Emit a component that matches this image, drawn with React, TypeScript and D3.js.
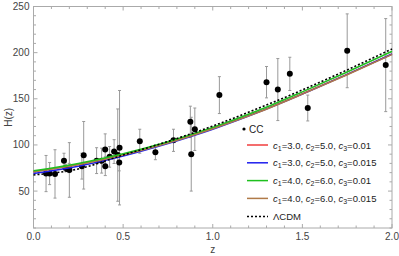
import { useMemo } from 'react'
import * as d3 from 'd3'

const W = 399
const H = 256

// cosmic chronometer data: z, H(z), sigma
const ccZ = [0.07, 0.09, 0.12, 0.17, 0.179, 0.199, 0.2, 0.27, 0.28, 0.352, 0.3802, 0.4, 0.4004, 0.4247, 0.4497, 0.47, 0.4783, 0.48, 0.593, 0.68, 0.781, 0.875, 0.88, 0.9, 1.037, 1.3, 1.363, 1.43, 1.53, 1.75, 1.965]
const ccH = [69, 69, 68.6, 83, 75, 75, 72.9, 77, 88.8, 83, 83, 95, 77, 87.1, 92.8, 89, 80.9, 97, 104, 92, 105, 125, 90, 117, 154, 168, 160, 177, 140, 202, 186.5]
const ccErr = [19.6, 12, 26.2, 8, 4, 5, 29.6, 14, 36.6, 14, 13.5, 17, 10.2, 11.2, 12.9, 50, 9, 62, 13, 8, 12, 17, 40, 23, 20, 17, 33.6, 18, 14, 40, 50.4]

// model curves
const curveZ = [0, 0.25, 0.5, 0.75, 1.0, 1.25, 1.5, 1.75, 2.0]
const redH = [71, 79, 89.5, 102.5, 118, 135.5, 155.5, 176.5, 198.5]
const blueH = [69, 77, 88, 101.5, 117, 135, 155, 176.5, 198.5]
const greenH = [72, 80, 90.5, 103.5, 119, 137, 157.5, 179, 201.5]
const brownH = [71, 78.5, 89, 102, 117.5, 135, 155, 176, 198]
const lcdmH = [67.5, 74, 89, 103.8, 120.5, 139.3, 159.6, 181.3, 204]

const xTicks = [0, 0.5, 1.0, 1.5, 2.0]
const yTicks = [50, 100, 150, 200, 250]

const models = [
  { label: ['3.0', '5.0', '0.01'], values: redH, color: '#f03c3c' },
  { label: ['3.0', '5.0', '0.015'], values: blueH, color: '#1e1eee' },
  { label: ['4.0', '6.0', '0.01'], values: greenH, color: '#1ec01e' },
  { label: ['4.0', '6.0', '0.015'], values: brownH, color: '#b07a48' },
]
const drawOrder = [0, 1, 3, 2]

const FONT = 'Liberation Sans, Arial, sans-serif'

export default function App() {
  const x = d3.scaleLinear().domain([0, 2]).range([33.5, 392])
  const y = d3.scaleLinear().domain([10, 250]).range([228, 6.5])

  const line = useMemo(
    () =>
      d3
        .line<number>()
        .x((_, i) => x(curveZ[i]))
        .y((d) => y(d))
        .curve(d3.curveMonotoneX),
    []
  )

  const xMinor = d3.range(0, 2.0001, 0.1)
  const yMinor = d3.range(10, 250.001, 10)
  const frame = '#aaa'
  const [x0, x1] = x.range()
  const [y0, y1] = y.range()

  return (
    <svg width={W} height={H} style={{ position: 'absolute', left: 0, top: 0 }} fontFamily={FONT}>
      <rect x={x0} y={y1} width={x1 - x0} height={y0 - y1} fill="none" stroke={frame} strokeWidth={1} />
      {xMinor.map((t, i) => {
        const major = Math.abs(Math.round(t * 2) - t * 2) < 1e-6
        const len = major ? 4 : 2.5
        return (
          <g key={'xt' + i} stroke={frame}>
            <line x1={x(t)} x2={x(t)} y1={y0} y2={y0 - len} />
            <line x1={x(t)} x2={x(t)} y1={y1} y2={y1 + len} />
          </g>
        )
      })}
      {yMinor.map((t, i) => {
        const major = t % 50 === 0
        const len = major ? 4 : 2.5
        return (
          <g key={'yt' + i} stroke={frame}>
            <line x1={x0} x2={x0 + len} y1={y(t)} y2={y(t)} />
            <line x1={x1} x2={x1 - len} y1={y(t)} y2={y(t)} />
          </g>
        )
      })}
      {xTicks.map((t) => (
        <text key={'xl' + t} x={x(t)} y={y0 + 12} fontSize={10} fill="#444" textAnchor="middle">
          {t.toFixed(1)}
        </text>
      ))}
      {yTicks.map((t) => (
        <text key={'yl' + t} x={x0 - 4} y={y(t) + 3.5} fontSize={10} fill="#444" textAnchor="end">
          {t}
        </text>
      ))}
      <text x={x(1)} y={253} fontSize={10} fill="#444" textAnchor="middle">z</text>
      <text transform={`translate(12,${y(130)}) rotate(-90)`} fontSize={10} fill="#444" textAnchor="middle">
        H(z)
      </text>

      {/* error bars */}
      {ccZ.map((z, i) => (
        <g key={'e' + i} stroke="#999" strokeWidth={1}>
          <line x1={x(z)} x2={x(z)} y1={y(ccH[i] - ccErr[i])} y2={y(ccH[i] + ccErr[i])} />
          <line x1={x(z) - 1.5} x2={x(z) + 1.5} y1={y(ccH[i] - ccErr[i])} y2={y(ccH[i] - ccErr[i])} />
          <line x1={x(z) - 1.5} x2={x(z) + 1.5} y1={y(ccH[i] + ccErr[i])} y2={y(ccH[i] + ccErr[i])} />
        </g>
      ))}
      {ccZ.map((z, i) => (
        <circle key={'p' + i} cx={x(z)} cy={y(ccH[i])} r={3} fill="#000" />
      ))}

      {/* model curves */}
      {drawOrder.map((k) => (
        <path key={'m' + k} d={line(models[k].values) || ''} fill="none" stroke={models[k].color} strokeWidth={1.5} />
      ))}
      <path d={line(lcdmH) || ''} fill="none" stroke="#000" strokeWidth={1.6} strokeDasharray="2,2" />

      {/* legend */}
      <circle cx={244} cy={129} r={1.6} fill="#000" />
      <text x={249} y={133} fontSize={10} fill="#222">CC</text>
      {models.map((m, i) => {
        const ly = 145 + i * 17.8
        return (
          <g key={'lg' + i}>
            <line x1={247} x2={268} y1={ly} y2={ly} stroke={m.color} strokeWidth={1.5} />
            <text x={273} y={ly + 3.5} fontSize={9.5} fill="#222">
              <tspan fontStyle="italic">c</tspan>
              <tspan fontSize={7} dy={2}>1</tspan>
              <tspan dy={-2}>={m.label[0]}, </tspan>
              <tspan fontStyle="italic">c</tspan>
              <tspan fontSize={7} dy={2}>2</tspan>
              <tspan dy={-2}>={m.label[1]}, </tspan>
              <tspan fontStyle="italic">c</tspan>
              <tspan fontSize={7} dy={2}>3</tspan>
              <tspan dy={-2}>={m.label[2]}</tspan>
            </text>
          </g>
        )
      })}
      <line x1={247} x2={268} y1={216.5} y2={216.5} stroke="#000" strokeWidth={1.4} strokeDasharray="2,2" />
      <text x={273} y={220} fontSize={9.5} fill="#222">ΛCDM</text>
    </svg>
  )
}
